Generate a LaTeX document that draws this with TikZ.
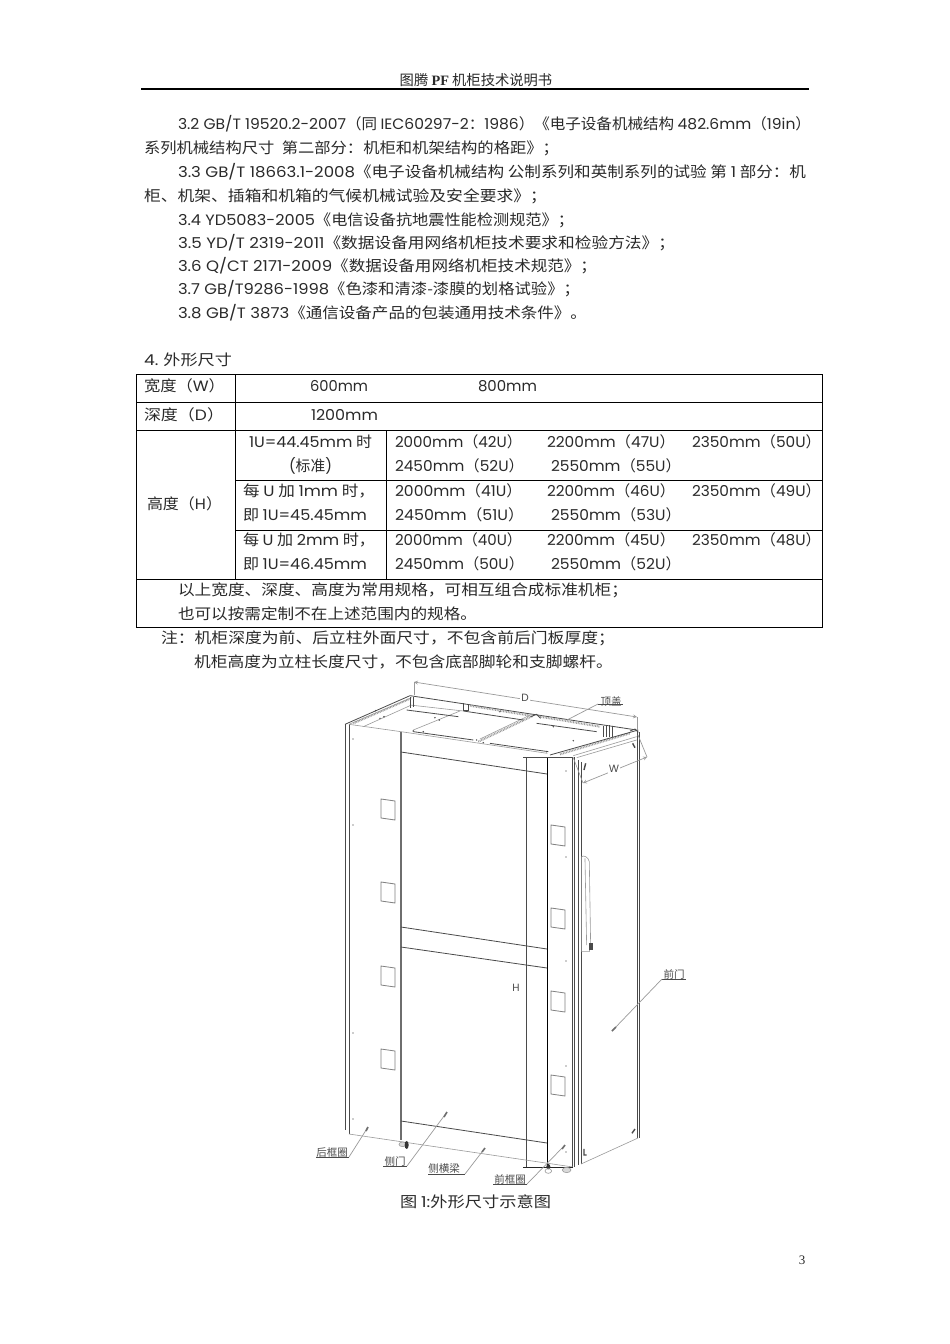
\documentclass[tikz,border=0pt]{standalone}
\usepackage{fontspec}
\usepackage{graphicx}
\usetikzlibrary{calc}
\setmainfont{Noto Sans CJK SC}
\newfontfamily\latf{Poppins}
\newfontfamily\serf{Liberation Serif}
\newcommand{\la}[1]{{\latf #1}}
\definecolor{txt}{HTML}{2A2A2A}
\definecolor{ln}{HTML}{4A4A4A}
\definecolor{lt}{HTML}{9A9A9A}
\newcommand{\TX}[5]{\node[bodytext] (#1) at (#2,#3+6) {\resizebox{#4pt}{\height}{#5}};}
\tikzset{
  bodytext/.style={anchor=base west,inner sep=0pt,outer sep=0pt,text=txt,font=\fontsize{15}{18}\selectfont},
  grid/.style={draw=black,line width=0.9pt},
  small/.style={inner sep=0pt,text=ln,font=\fontsize{10.5}{12}\selectfont},
  dimlabel/.style={inner sep=0pt,text=ln,font=\latf\fontsize{10.5}{12}\selectfont},
  leader/.style={draw=lt,line width=0.7pt},
  under/.style={draw=ln,line width=0.7pt},
  tiparrow/.style={draw=ln!80,line width=1.6pt},
  edge1/.style={draw=ln,line width=0.8pt},
  thin1/.style={draw=lt,line width=0.6pt},
  dark/.style={draw=black!85,line width=1pt},
  post/.style={draw=ln!80,line width=1.2pt},
  hatch/.style={draw=lt,line width=2pt,dash pattern=on 0.8pt off 0.8pt},
  win/.style={draw=ln!70,line width=0.8pt},
}
\begin{document}
\begin{tikzpicture}[x=1pt,y=-1pt]
\useasboundingbox (0,0) rectangle (950,1344);
\fill[white] (0,0) rectangle (950,1344);
% header
\node[inner sep=0pt,text=txt,anchor=base,font=\fontsize{14.3}{16}\selectfont] (hdr) at (476,85) {图腾 {\serf\bfseries PF} 机柜技术说明书};
\coordinate (ra) at (141,89); \coordinate (rb) at (809,89);
\draw[black,line width=1.2pt] (ra) -- (rb);
\node[inner sep=0pt,text=txt,anchor=base,font=\serf\fontsize{13}{15}\selectfont] (pg) at (802,1264) {3};
% body text
\TX{a1}{178}{123}{633}{\la{3.2 GB/T 19520.2-2007}（同 \la{IEC60297-2}：\la{1986}）《电子设备机械结构 \la{482.6mm}（\la{19in}）}
\TX{a2}{144}{147}{415}{系列机械结构尺寸 \ 第二部分：机柜和机架结构的格距》；}
\TX{a3}{178}{171}{628}{\la{3.3 GB/T 18663.1-2008}《电子设备机械结构 公制系列和英制系列的试验 第 \la{1} 部分：机}
\TX{a4}{144}{195}{403}{柜、机架、插箱和机箱的气候机械试验及安全要求》；}
\TX{a5}{178}{219}{396}{\la{3.4 YD5083-2005}《电信设备抗地震性能检测规范》；}
\TX{a6}{178}{242}{497}{\la{3.5 YD/T 2319-2011}《数据设备用网络机柜技术要求和检验方法》；}
\TX{a7}{178}{265}{419}{\la{3.6 Q/CT 2171-2009}《数据设备用网络机柜技术规范》；}
\TX{a8}{178}{288}{402}{\la{3.7 GB/T9286-1998}《色漆和清漆-漆膜的划格试验》；}
\TX{a9}{178}{312}{409}{\la{3.8 GB/T 3873}《通信设备产品的包装通用技术条件》。}
\TX{a10}{144}{359}{88}{\la{4.} 外形尺寸}
% table grid
\coordinate (t0) at (136,374); \coordinate (t1) at (822,627);
\draw[grid] (t0) rectangle (t1);
\coordinate (g1) at (136,402); \coordinate (g1e) at (822,402);
\coordinate (g2) at (136,430); \coordinate (g2e) at (822,430);
\coordinate (g3) at (235,480); \coordinate (g3e) at (822,480);
\coordinate (g4) at (235,530); \coordinate (g4e) at (822,530);
\coordinate (g5) at (136,579); \coordinate (g5e) at (822,579);
\coordinate (v1) at (235,374); \coordinate (v1e) at (235,579);
\coordinate (v2) at (386,430); \coordinate (v2e) at (386,579);
\draw[grid] (g1) -- (g1e) (g2) -- (g2e) (g3) -- (g3e) (g4) -- (g4e) (g5) -- (g5e) (v1) -- (v1e) (v2) -- (v2e);
% table text
\TX{b1}{144}{385}{81}{宽度（\la{W}）}
\TX{b2}{310}{385}{58}{\la{600mm}}
\TX{b3}{478}{385}{59}{\la{800mm}}
\TX{b4}{144}{414}{80}{深度（\la{D}）}
\TX{b5}{311}{414}{67}{\la{1200mm}}
\TX{b6}{147}{503}{75}{高度（\la{H}）}
\TX{c1}{249}{441}{123}{\la{1U=44.45mm} 时}
\TX{c2}{289}{465}{43}{\la{(}标准\la{)}}
\TX{c3}{243}{490}{132}{每 \la{U} 加 \la{1mm} 时，}
\TX{c4}{243}{514}{124}{即 \la{1U=45.45mm}}
\TX{c5}{243}{539}{132}{每 \la{U} 加 \la{2mm} 时，}
\TX{c6}{243}{563}{124}{即 \la{1U=46.45mm}}
\TX{d1}{395}{441}{127}{\la{2000mm}（\la{42U}）}
\TX{d2}{547}{441}{128}{\la{2200mm}（\la{47U}）}
\TX{d3}{692}{441}{129}{\la{2350mm}（\la{50U}）}
\TX{d4}{395}{465}{129}{\la{2450mm}（\la{52U}）}
\TX{d5}{551}{465}{130}{\la{2550mm}（\la{55U}）}
\TX{e1}{395}{490}{127}{\la{2000mm}（\la{41U}）}
\TX{e2}{547}{490}{128}{\la{2200mm}（\la{46U}）}
\TX{e3}{692}{490}{129}{\la{2350mm}（\la{49U}）}
\TX{e4}{395}{514}{129}{\la{2450mm}（\la{51U}）}
\TX{e5}{551}{514}{130}{\la{2550mm}（\la{53U}）}
\TX{f1}{395}{539}{127}{\la{2000mm}（\la{40U}）}
\TX{f2}{547}{539}{128}{\la{2200mm}（\la{45U}）}
\TX{f3}{692}{539}{129}{\la{2350mm}（\la{48U}）}
\TX{f4}{395}{563}{129}{\la{2450mm}（\la{50U}）}
\TX{f5}{551}{563}{130}{\la{2550mm}（\la{52U}）}
\TX{h1}{178}{589}{450}{以上宽度、深度、高度为常用规格，可相互组合成标准机柜；}
\TX{h2}{178}{613}{299}{也可以按需定制不在上述范围内的规格。}
\TX{h3}{161}{637}{454}{注：机柜深度为前、后立柱外面尺寸，不包含前后门板厚度；}
\TX{h4}{194}{661}{419}{机柜高度为立柱长度尺寸，不包含底部脚轮和支脚螺杆。}
% cabinet: body outlines, page pixel coordinates
\draw[edge1] (345,724) -- (345,1130) (349,724) -- (349,1134);
\draw[post] (401,732) -- (401,1140);
\draw[edge1] (526,757) -- (526,1167);
\draw[draw=black,line width=1pt] (547,757) -- (547,1168);
\draw[edge1] (523,757) -- (572,757);
\draw[edge1] (572,757) -- (572,1167) (574,757) -- (574,1167);
\draw[edge1] (578,760) -- (578,1165) (581,762) -- (581,1164);
\draw[edge1] (637,732) -- (637,1138) (639,732) -- (639,1138);
\draw[edge1] (401,752) -- (547,774) (401,927) -- (547,949) (401,947) -- (547,968) (401,1121) -- (547,1143);
\draw[thin1] (349,1134) -- (573,1167) (581,1164) -- (638,1138);
\draw[dark] (523,1167) -- (573,1167);
\draw[thin1] (573,757) -- (583,783);
% panel windows
\foreach \wx/\wy in {381/799,381/882,381/966,381/1049,551/825,551/908,551/991,551/1075}{
  \draw[win] (\wx,\wy) -- (\wx+14,\wy+2) -- (\wx+14,\wy+21) -- (\wx,\wy+19) -- cycle;
}
% small fixing dots
\foreach \dx/\dy in {353/739,353/825,353/1033,353/1119,566/771,566/857,566/961,566/1066,566/1152}{
  \fill[lt] (\dx,\dy) circle (0.8pt);
}
% top of cabinet, in units of 1/3 px
\begin{scope}[shift={(310,675)},x=0.3333pt,y=-0.3333pt]
  \draw[edge1] (105,148) -- (300,62) -- (980,165);
  \draw[thin1] (117,148) -- (305,68) (117,148) -- (273,170) -- (712,235);
  \draw[hatch] (130,145) -- (298,72) (505,200) -- (670,122) (480,92) -- (660,122) (690,125) -- (870,155) (750,238) -- (960,175);
  \draw[thin1] (160,155) -- (300,92) (510,192) -- (665,118) (300,90) -- (460,108) (310,165) -- (450,108);
  \draw[edge1] (720,240) -- (985,165);
  \draw[thin1] (790,242) -- (980,185) (800,248) -- (980,195);
  \draw[edge1] (290,105) -- (445,125) (460,108) -- (640,135) (680,145) -- (860,170);
  \draw[edge1] (310,170) -- (490,195) (540,205) -- (715,230);
  \draw[edge1] (300,65) -- (300,100) (310,65) -- (310,95) (460,85) -- (460,105) -- (475,105) -- (475,88);
  \draw[edge1] (880,152) -- (880,185) (890,152) -- (890,185) (898,150) -- (898,185) (906,152) -- (906,185);
  \draw[edge1] (662,125) -- (680,118) -- (692,130) (960,168) -- (975,162) -- (985,172);
  \foreach \q/\r in {197/107,210/130,222/125,375/128,388/135,310/168,340/170,500/195,520/203,570/110,730/155,790/197,710/230}{
    \fill[ln] (\q,\r) circle (2.5);
  }
  \draw[draw=ln,line width=1.4pt] (827,265) -- (822,285) (968,205) -- (975,218);
\end{scope}
% door handle and feet, in units of 1/3 px
\begin{scope}[shift={(310,935)},x=0.3333pt,y=-0.3333pt]
  \draw[thin1] (815,-235) .. controls (820,-240) and (835,-235) .. (838,-220) -- (842,30) -- (838,50) -- (815,50);
  \draw[thin1] (825,-230) -- (830,30) (815,-235) -- (815,50);
  \fill[ln] (838,25) rectangle (848,45);
  \draw[thin1,fill=black!15] (278,628) ellipse (11 and 7) (770,705) ellipse (13 and 8);
  \fill[black!80] (290,630) ellipse (6 and 12) (715,695) ellipse (6 and 8);
  \draw[thin1] (715,708) ellipse (10 and 7);
  \draw[draw=ln,line width=1.4pt] (822,642) -- (822,660) -- (830,660) (966,595) -- (975,582);
\end{scope}
% dimensions
\coordinate (da) at (414,682); \coordinate (db) at (637,717);
\coordinate (daa) at (414,695); \coordinate (dbb) at (637,730);
\draw[leader,<->,>=stealth] (da) -- (db);
\draw[thin1] (da) -- (daa) (db) -- (dbb);
\node[dimlabel,fill=white,inner sep=1pt] (D) at (525,698) {D};
\coordinate (wa) at (583,783); \coordinate (wb) at (647,757); \coordinate (wc) at (638,735);
\draw[leader] (wc) -- (wb);
\draw[leader,<->,>=stealth] (wa) -- (wb);
\node[dimlabel,fill=white,inner sep=1pt] (W) at (614,769) {W};
\node[dimlabel] (H) at (516,988) {H};
% callouts
\node[small] (top) at (611,702) {顶盖};
\coordinate (u0a) at (598,704); \coordinate (u0b) at (623,704); \coordinate (u0t) at (567,720);
\draw[under] (u0a) -- (u0b);
\draw[leader] (u0a) -- (u0t);
\node[small] (front) at (674,974) {前门};
\coordinate (u1a) at (662,979); \coordinate (u1b) at (686,979); \coordinate (u1t) at (612,1031);
\draw[under] (u1a) -- (u1b);
\draw[leader] (u1a) -- (u1t);
\node[small] (rear) at (332,1152) {后框圈};
\coordinate (u2a) at (316,1157); \coordinate (u2b) at (349,1157); \coordinate (u2t) at (368,1127);
\draw[under] (u2a) -- (u2b);
\draw[leader] (u2b) -- (u2t);
\node[small] (side) at (395,1161) {侧门};
\coordinate (u3a) at (383,1166); \coordinate (u3b) at (407,1166); \coordinate (u3t) at (447,1112);
\draw[under] (u3a) -- (u3b);
\draw[leader] (u3b) -- (u3t);
\node[small] (beam) at (444,1169) {侧横梁};
\coordinate (u4a) at (428,1174); \coordinate (u4b) at (465,1174); \coordinate (u4t) at (485,1148);
\draw[under] (u4a) -- (u4b);
\draw[leader] (u4b) -- (u4t);
\node[small] (ffr) at (510,1179) {前框圈};
\coordinate (u5a) at (493,1184); \coordinate (u5b) at (527,1184); \coordinate (u5t) at (565,1145);
\draw[under] (u5a) -- (u5b);
\draw[leader] (u5b) -- (u5t);
% small arrow tips of the callouts
\draw[tiparrow] ($(u1t)+(4,-4)$) -- (u1t);
\draw[tiparrow] ($(u2t)+(-2,4)$) -- (u2t);
\draw[tiparrow] ($(u3t)+(-3,5)$) -- (u3t);
\draw[tiparrow] ($(u4t)+(-3,4)$) -- (u4t);
\draw[tiparrow] ($(u5t)+(-3,4)$) -- (u5t);
% caption
\TX{cap}{400}{1201}{151}{图 \la{1:}外形尺寸示意图}
\end{tikzpicture}
\end{document}
